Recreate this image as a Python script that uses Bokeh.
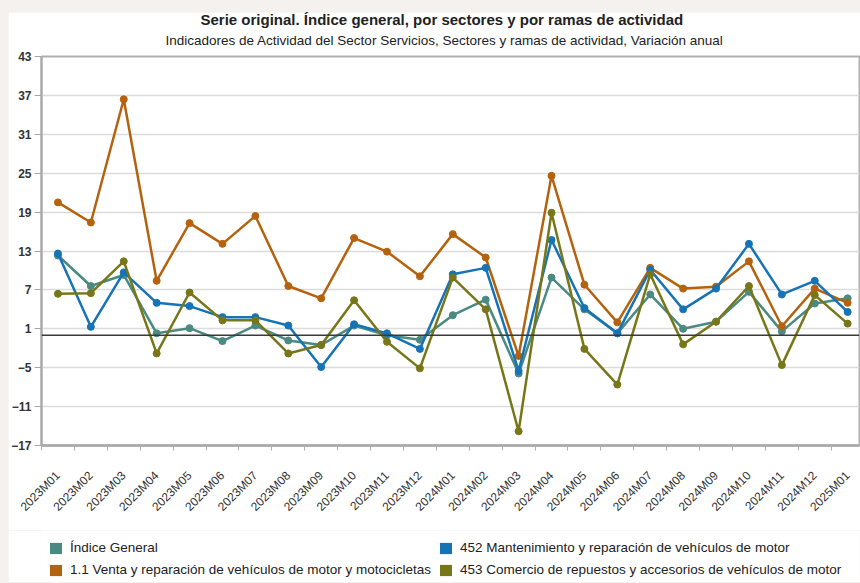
import math
from bokeh.plotting import figure
from bokeh.layouts import column
from bokeh.models import (Range1d, FixedTicker, Span, Legend, LegendItem, Title,
                          ColumnDataSource, GlobalInlineStyleSheet)
from bokeh.embed import file_html
from bokeh.resources import INLINE

categories = ["2023M01", "2023M02", "2023M03", "2023M04", "2023M05", "2023M06",
              "2023M07", "2023M08", "2023M09", "2023M10", "2023M11", "2023M12",
              "2024M01", "2024M02", "2024M03", "2024M04", "2024M05", "2024M06",
              "2024M07", "2024M08", "2024M09", "2024M10", "2024M11", "2024M12",
              "2025M01"]
indice_general = [12.3, 7.6, 9.3, 0.3, 1.1, -0.9, 1.5, -0.8, -1.5, 1.5, 0.0, -0.7,
                  3.1, 5.5, -5.9, 8.9, 4.0, 0.3, 6.3, 1.0, 2.1, 6.7, 0.6, 4.9, 5.7]
venta_reparacion = [20.5, 17.4, 36.4, 8.4, 17.3, 14.1, 18.4, 7.6, 5.7, 15.0, 12.9, 9.1,
                    15.6, 12.0, -3.2, 24.6, 7.8, 2.0, 10.4, 7.2, 7.5, 11.4, 1.4, 7.2, 5.0]
mantenimiento = [12.6, 1.3, 9.7, 5.0, 4.5, 2.8, 2.8, 1.5, -4.9, 1.7, 0.3, -2.1,
                 9.4, 10.4, -5.5, 14.7, 4.2, 0.3, 10.1, 4.0, 7.2, 14.1, 6.3, 8.4, 3.6]
comercio_repuestos = [6.4, 6.5, 11.4, -2.8, 6.6, 2.3, 2.3, -2.8, -1.5, 5.4, -1.0, -5.1,
                      8.9, 4.0, -14.8, 18.9, -2.1, -7.6, 9.4, -1.4, 2.1, 7.6, -4.6, 6.2, 1.8]
y_ticks = [-17, -11, -5, 1, 7, 13, 19, 25, 31, 37, 43]

series_names = ["Índice General",
                "1.1 Venta y reparación de vehículos de motor y motocicletas",
                "452 Mantenimiento y reparación de vehículos de motor",
                "453 Comercio de repuestos y accesorios de vehículos de motor"]
series_values = [indice_general, venta_reparacion, mantenimiento, comercio_repuestos]
series_colors = ["#4a8a82", "#b5620f", "#1673b5", "#77771a"]

FONT = "Liberation Sans"
xs = list(range(len(categories)))

p = figure(width=852, height=518,
           x_range=Range1d(-0.5, 24.36), y_range=Range1d(-17, 43),
           output_backend="svg", toolbar_location=None,
           min_border_left=28, min_border_right=1, min_border_top=44, min_border_bottom=85,
           background_fill_color="white", border_fill_color="white",
           outline_line_color="#b0b0b0", outline_line_width=2)
p.stylesheets = [GlobalInlineStyleSheet(css="body{background:#f4f1ee;margin:12px 0 0 8px;}")]

# titles: main title outermost, subtitle next to the frame
p.title.text = "Serie original. Índice general, por sectores y por ramas de actividad"
p.title.align = "left"
p.title.offset = 159
p.title.text_font = FONT
p.title.text_font_size = "15px"
p.title.text_font_style = "bold"
p.title.text_color = "#222222"
p.title.standoff = -10
subtitle = Title(text="Indicadores de Actividad del Sector Servicios, Sectores y ramas de actividad, Variación anual",
                 align="left", offset=124, text_font=FONT, text_font_size="13.5px",
                 text_font_style="normal", text_color="#222222", standoff=17)
p.add_layout(subtitle, "above")

# grid
p.xgrid.grid_line_color = None
p.ygrid.grid_line_color = "#dcdcdc"
p.ygrid.grid_line_width = 1.5

# y axis
p.yaxis.ticker = FixedTicker(ticks=y_ticks)
p.yaxis.axis_line_color = "#a8a8a8"
p.yaxis.axis_line_width = 2
p.yaxis.major_tick_line_color = "#a8a8a8"
p.yaxis.major_tick_out = 7
p.yaxis.major_tick_in = 0
p.yaxis.minor_tick_line_color = None
p.yaxis.major_label_text_font = FONT
p.yaxis.major_label_text_font_size = "12px"
p.yaxis.major_label_text_font_style = "bold"
p.yaxis.major_label_text_color = "#333333"
p.yaxis.major_label_standoff = 3

# x axis
p.xaxis.ticker = FixedTicker(ticks=xs, minor_ticks=[i - 0.5 for i in range(len(categories) + 1)])
p.xaxis.major_label_overrides = {i: c for i, c in enumerate(categories)}
p.xaxis.major_label_orientation = math.pi / 4
p.xaxis.major_tick_line_color = None
p.xaxis.minor_tick_line_color = "#b0b0b0"
p.xaxis.minor_tick_out = 5
p.xaxis.minor_tick_in = 0
p.xaxis.axis_line_color = "#a8a8a8"
p.xaxis.axis_line_width = 2.5
p.xaxis.major_label_text_font = FONT
p.xaxis.major_label_text_font_size = "12px"
p.xaxis.major_label_text_color = "#333333"
p.xaxis.major_label_standoff = 22

p.add_layout(Span(location=0, dimension="width", line_color="#3a3a3a", line_width=1.5))

# legend figure (separate strip under the chart; its frame is aligned with the chart's)
lg = figure(width=852, height=52, x_range=Range1d(0, 1), y_range=Range1d(0, 1),
            output_backend="svg", toolbar_location=None,
            x_axis_location=None, y_axis_location=None,
            min_border=0, min_border_left=0, min_border_right=0,
            min_border_top=0, min_border_bottom=0,
            background_fill_color="white", border_fill_color="white",
            outline_line_color=None)
lg.grid.visible = False

legend_items = []
for name, vals, col in zip(series_names, series_values, series_colors):
    src = ColumnDataSource(dict(x=xs, y=vals))
    p.line("x", "y", source=src, line_color=col, line_width=2.5)
    p.scatter("x", "y", source=src, size=7, fill_color=col, line_color=col)
    # zero-area box used only as the legend swatch
    box = lg.quad(left=[0], right=[0], top=[0], bottom=[0], fill_color=col, line_color=None)
    legend_items.append(LegendItem(label=name, renderers=[box]))

legend = Legend(items=legend_items, orientation="vertical", nrows=2,
                location=(7, 5), glyph_width=15, glyph_height=14,
                label_text_font=FONT, label_text_font_size="13.5px", label_text_color="#222222",
                label_standoff=7, spacing=7, padding=0, margin=0,
                border_line_color=None, background_fill_alpha=0)
lg.add_layout(legend, "center")

layout = column(p, lg, spacing=0)
open("out.html", "w").write(file_html(layout, INLINE))
